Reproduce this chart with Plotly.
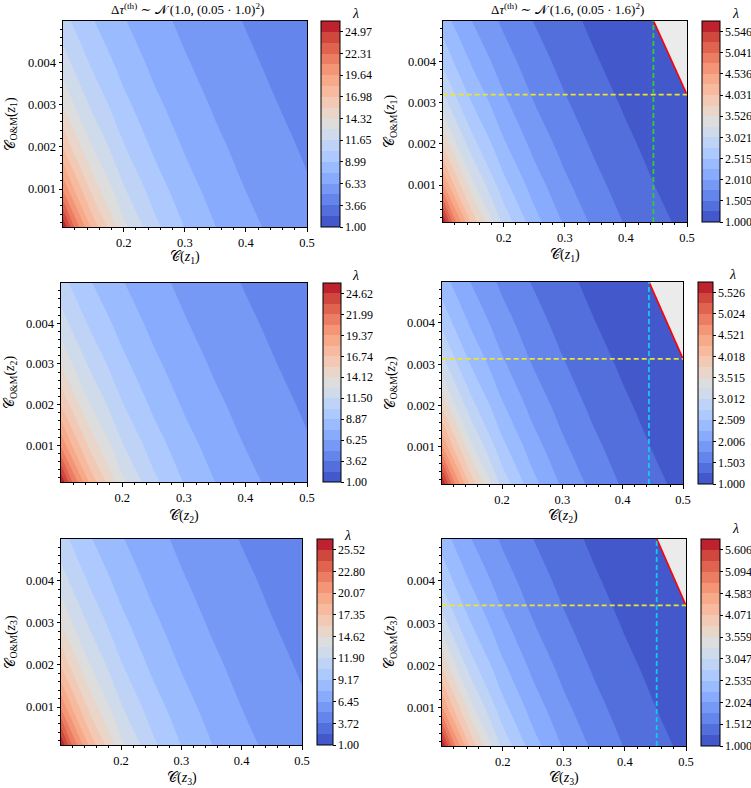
import plotly.graph_objects as go
from plotly.colors import sample_colorscale

c_z = [0.1, 0.12, 0.15, 0.2, 0.25, 0.3, 0.35, 0.4, 0.45, 0.5]
c_om = [0.0001, 0.001, 0.002, 0.003, 0.004, 0.005]

# left column: threshold mean 1.0
lam_z1_10 = [
    [26.30, 22.02, 17.71, 13.34, 10.71, 8.94, 7.67, 6.72, 5.98, 5.39],
    [20.84, 18.06, 15.05, 11.78, 9.67, 8.21, 7.13, 6.30, 5.64, 5.11],
    [16.93, 15.05, 12.90, 10.42, 8.74, 7.53, 6.61, 5.89, 5.31, 4.84],
    [14.26, 12.90, 11.29, 9.34, 7.97, 6.95, 6.16, 5.53, 5.02, 4.59],
    [12.31, 11.29, 10.03, 8.47, 7.32, 6.45, 5.77, 5.21, 4.75, 4.37],
    [10.84, 10.03, 9.03, 7.74, 6.77, 6.02, 5.42, 4.93, 4.52, 4.17],
]
lam_z2_10 = [
    [25.93, 21.72, 17.46, 13.16, 10.56, 8.81, 7.57, 6.63, 5.90, 5.31],
    [20.55, 17.81, 14.84, 11.61, 9.54, 8.09, 7.03, 6.21, 5.56, 5.04],
    [16.69, 14.84, 12.72, 10.27, 8.62, 7.42, 6.51, 5.81, 5.24, 4.77],
    [14.06, 12.72, 11.13, 9.21, 7.86, 6.85, 6.07, 5.45, 4.95, 4.53],
    [12.14, 11.13, 9.89, 8.35, 7.22, 6.36, 5.68, 5.14, 4.69, 4.31],
    [10.68, 9.89, 8.90, 7.63, 6.68, 5.94, 5.34, 4.86, 4.45, 4.11],
]
lam_z3_10 = [
    [26.88, 22.51, 18.10, 13.64, 10.95, 9.14, 7.84, 6.87, 6.11, 5.50],
    [21.30, 18.46, 15.38, 12.04, 9.89, 8.39, 7.29, 6.44, 5.77, 5.23],
    [17.31, 15.38, 13.19, 10.65, 8.93, 7.69, 6.75, 6.02, 5.43, 4.95],
    [14.57, 13.19, 11.54, 9.55, 8.14, 7.10, 6.29, 5.65, 5.13, 4.69],
    [12.59, 11.54, 10.26, 8.65, 7.49, 6.59, 5.89, 5.33, 4.86, 4.47],
    [11.08, 10.26, 9.23, 7.91, 6.92, 6.15, 5.54, 5.03, 4.62, 4.26],
]

# right column: threshold mean 1.6 (None = blank grey corner, lambda < 1)
lam_z1_16 = [
    [5.799, 4.856, 3.904, 2.942, 2.361, 1.971, 1.692, 1.482, 1.319, 1.187],
    [4.594, 3.982, 3.319, 2.597, 2.133, 1.810, 1.572, 1.389, 1.244, 1.127],
    [3.733, 3.319, 2.844, 2.297, 1.927, 1.659, 1.457, 1.299, 1.171, 1.067],
    [3.144, 2.844, 2.489, 2.060, 1.757, 1.532, 1.358, 1.219, 1.106, 1.012],
    [2.715, 2.489, 2.212, 1.867, 1.615, 1.422, 1.271, 1.149, 1.048, None],
    [2.389, 2.212, 1.991, 1.707, 1.493, 1.327, 1.195, 1.086, None, None],
]
lam_z2_16 = [
    [5.778, 4.838, 3.890, 2.931, 2.352, 1.964, 1.686, 1.476, 1.314, 1.183],
    [4.578, 3.967, 3.306, 2.587, 2.125, 1.803, 1.566, 1.384, 1.240, 1.123],
    [3.719, 3.306, 2.834, 2.289, 1.920, 1.653, 1.451, 1.294, 1.167, 1.063],
    [3.132, 2.834, 2.480, 2.052, 1.750, 1.526, 1.353, 1.215, 1.102, 1.009],
    [2.705, 2.480, 2.204, 1.860, 1.609, 1.417, 1.266, 1.144, 1.044, None],
    [2.380, 2.204, 1.984, 1.700, 1.488, 1.322, 1.190, 1.082, None, None],
]
lam_z3_16 = [
    [5.862, 4.909, 3.946, 2.974, 2.387, 1.993, 1.711, 1.498, 1.333, 1.200],
    [4.644, 4.026, 3.355, 2.625, 2.156, 1.830, 1.589, 1.404, 1.258, 1.139],
    [3.774, 3.355, 2.875, 2.322, 1.948, 1.677, 1.473, 1.313, 1.184, 1.078],
    [3.178, 2.875, 2.516, 2.082, 1.776, 1.548, 1.372, 1.232, 1.118, 1.023],
    [2.744, 2.516, 2.236, 1.887, 1.632, 1.438, 1.285, 1.161, 1.059, None],
    [2.415, 2.236, 2.013, 1.725, 1.510, 1.342, 1.208, 1.098, 1.007, None],
]
lam_max = [26.30, 5.799, 25.93, 5.778, 26.88, 5.862]

# colorbar tick labels
cb_z1_10 = ["1.00", "3.66", "6.33", "8.99", "11.65", "14.32", "16.98", "19.64", "22.31", "24.97"]
cb_z2_10 = ["1.00", "3.62", "6.25", "8.87", "11.50", "14.12", "16.74", "19.37", "21.99", "24.62"]
cb_z3_10 = ["1.00", "3.72", "6.45", "9.17", "11.90", "14.62", "17.35", "20.07", "22.80", "25.52"]
cb_z1_16 = ["1.000", "1.505", "2.010", "2.515", "3.021", "3.526", "4.031", "4.536", "5.041", "5.546"]
cb_z2_16 = ["1.000", "1.503", "2.006", "2.509", "3.012", "3.515", "4.018", "4.521", "5.024", "5.526"]
cb_z3_16 = ["1.000", "1.512", "2.024", "2.535", "3.047", "3.559", "4.071", "4.583", "5.094", "5.606"]

# where lambda drops to 1 (right column only)
crit_x = [0.445, 0.4435, 0.452]
crit_y = [0.0032, 0.00313, 0.00342]

# matplotlib coolwarm
coolwarm = [
    (59, 76, 192), (68, 90, 204), (77, 104, 215), (87, 117, 225), (98, 130, 234),
    (108, 142, 241), (119, 154, 247), (130, 165, 251), (141, 176, 254), (152, 185, 255),
    (163, 194, 255), (174, 201, 253), (184, 208, 249), (194, 213, 244), (204, 217, 238),
    (213, 219, 230), (221, 221, 221), (229, 216, 209), (236, 211, 197), (241, 204, 184),
    (245, 196, 172), (247, 187, 159), (247, 177, 146), (247, 167, 134), (244, 154, 123),
    (241, 141, 111), (236, 127, 99), (229, 112, 88), (222, 96, 77), (213, 80, 66),
    (203, 62, 56), (192, 40, 47), (180, 4, 38),
]
n_lev = 20
cw_scale = [[i / (len(coolwarm) - 1), "rgb(%d,%d,%d)" % c] for i, c in enumerate(coolwarm)]

# contour fill: plotly samples band i at (i+1)/20, matplotlib at (i+0.5)/19
cscale = [[0, cw_scale[0][1]]]
for fm, col in cw_scale:
    cscale.append([((n_lev - 1) * fm + 0.5) / n_lev, col])
cscale.append([1, cw_scale[-1][1]])

# stepped scale for the colorbars (19 bands between 20 levels)
band_cols = sample_colorscale(cw_scale, [(i + 0.5) / (n_lev - 1) for i in range(n_lev - 1)])
cb_scale = []
for i, col in enumerate(band_cols):
    cb_scale.append([i / (n_lev - 1), col])
    cb_scale.append([(i + 1) / (n_lev - 1), col])

SERIF = "Liberation Serif, DejaVu Serif, serif"
W, H = 751, 788

panels = [
    # z, ticks, sub, plot box (x0, x1, y0, y1), colorbar (x0, x1), lambda pos, crit idx
    (lam_z1_10, cb_z1_10, "1", (63, 307, 21, 227), (321, 340), (355, 14), None),
    (lam_z1_16, cb_z1_16, "1", (443, 687, 21, 222), (702, 720), (735, 14), 0),
    (lam_z2_10, cb_z2_10, "2", (61, 307, 283, 482), (323, 341), (355, 275), None),
    (lam_z2_16, cb_z2_16, "2", (442, 683, 282, 484), (698, 713), (732, 274), 1),
    (lam_z3_10, cb_z3_10, "3", (61, 302, 539, 745), (317, 333), (347, 535), None),
    (lam_z3_16, cb_z3_16, "3", (442, 686, 539, 746), (701, 720), (735, 528), 2),
]
crit_colors = ["rgb(50,205,50)", "rgb(20,200,235)", "rgb(20,200,235)"]
xtitle_y = [258, 256, 516, 516, 778, 778]
ytitle_x = [10.5, 390.5]

fig = go.Figure()
annotations = []

for k, (z, ticks, sub, box, cb, lam_pos, ci) in enumerate(panels):
    x0, x1, y0, y1 = box
    xa = "x" if k == 0 else "x%d" % (k + 1)
    ya = "y" if k == 0 else "y%d" % (k + 1)
    lname = "axis" if k == 0 else "axis%d" % (k + 1)
    zmax = lam_max[k]
    step = (zmax - 1.0) / (n_lev - 1)

    fig.add_trace(go.Contour(
        x=c_z, y=c_om, z=z, xaxis=xa, yaxis=ya, connectgaps=True,
        colorscale=cscale, showscale=False,
        contours=dict(start=1.0, end=zmax, size=step, coloring="fill", showlines=False),
        line=dict(width=0),
        hoverinfo="skip",
    ))

    # colorbar carrier spanning exactly [1, max]
    fig.add_trace(go.Scatter(
        x=[None, None], y=[None, None], xaxis=xa, yaxis=ya, mode="markers",
        marker=dict(
            color=[1.0, zmax], cmin=1.0, cmax=zmax, colorscale=cb_scale, showscale=True,
            colorbar=dict(
                x=cb[0] / W, xanchor="left", xpad=0, ypad=0,
                thickness=cb[1] - cb[0], thicknessmode="pixels",
                len=(y1 - y0) / H, lenmode="fraction",
                y=1 - (y0 + y1) / 2 / H, yanchor="middle",
                outlinewidth=1, outlinecolor="black",
                ticks="outside", ticklen=2.5, tickwidth=0.8, tickcolor="black",
                tickvals=[float(t) for t in ticks], ticktext=ticks,
                tickfont=dict(family=SERIF, size=12, color="black"),
            ),
        ),
        showlegend=False, hoverinfo="skip",
    ))

    fig.update_layout(**{
        "x" + lname: dict(
            domain=[x0 / W, x1 / W], anchor=ya, range=[0.1005, 0.5],
            tickvals=[0.2, 0.3, 0.4, 0.5], ticktext=["0.2", "0.3", "0.4", "0.5"],
            ticks="outside", ticklen=3.5, tickwidth=0.8, tickcolor="black",
            minor=dict(tick0=0, dtick=0.02, ticks="outside", ticklen=2, tickwidth=0.6, tickcolor="black"),
            showline=True, linecolor="black", linewidth=1, mirror=True,
            showgrid=False, zeroline=False,
            tickfont=dict(family=SERIF, size=12.5, color="black"),
        ),
        "y" + lname: dict(
            domain=[1 - y1 / H, 1 - y0 / H], anchor=xa, range=[0.0001, 0.00499],
            tickvals=[0.001, 0.002, 0.003, 0.004], ticktext=["0.001", "0.002", "0.003", "0.004"],
            ticks="outside", ticklen=3.5, tickwidth=0.8, tickcolor="black",
            minor=dict(tick0=0, dtick=0.0002, ticks="outside", ticklen=2, tickwidth=0.6, tickcolor="black"),
            showline=True, linecolor="black", linewidth=1, mirror=True,
            showgrid=False, zeroline=False,
            tickfont=dict(family=SERIF, size=12.5, color="black"),
        ),
    })

    if ci is not None:
        cx, cy = crit_x[ci], crit_y[ci]
        # infeasible corner (lambda < 1)
        fig.add_trace(go.Scatter(
            x=[cx, 0.5, 0.5, cx], y=[0.005, 0.005, cy, 0.005], xaxis=xa, yaxis=ya,
            mode="lines", fill="toself", fillcolor="#ebebeb", line=dict(width=0),
            showlegend=False, hoverinfo="skip",
        ))
        fig.add_trace(go.Scatter(
            x=[cx, 0.5], y=[0.005, cy], xaxis=xa, yaxis=ya, mode="lines",
            line=dict(color="red", width=1.6), showlegend=False, hoverinfo="skip",
        ))
        fig.add_trace(go.Scatter(
            x=[0.1, 0.5], y=[cy, cy], xaxis=xa, yaxis=ya, mode="lines",
            line=dict(color="rgb(238,228,40)", width=1.8, dash="5px,3px"),
            showlegend=False, hoverinfo="skip",
        ))
        fig.add_trace(go.Scatter(
            x=[cx, cx], y=[0.0001, 0.005], xaxis=xa, yaxis=ya, mode="lines",
            line=dict(color=crit_colors[ci], width=1.8, dash="5px,3px"),
            showlegend=False, hoverinfo="skip",
        ))

    # axis titles
    annotations.append(dict(
        x=(x0 + x1) / 2 / W, y=1 - xtitle_y[k] / H, xref="paper", yref="paper",
        text="𝒞(<i>z</i><sub>%s</sub>)" % sub, showarrow=False,
        font=dict(family=SERIF, size=14, color="black"), xanchor="center", yanchor="middle",
    ))
    annotations.append(dict(
        x=ytitle_x[k % 2] / W, y=1 - (y0 + y1) / 2 / H, xref="paper", yref="paper",
        text="𝒞<sub>O&M</sub>(<i>z</i><sub>%s</sub>)" % sub, showarrow=False, textangle=-90,
        font=dict(family=SERIF, size=14, color="black"), xanchor="center", yanchor="middle",
    ))
    annotations.append(dict(
        x=lam_pos[0] / W, y=1 - lam_pos[1] / H, xref="paper", yref="paper",
        text="<i>λ</i>", showarrow=False,
        font=dict(family=SERIF, size=14, color="black"), xanchor="center", yanchor="middle",
    ))

# column titles
for cx, mu in [(187, "1.0"), (567, "1.6")]:
    annotations.append(dict(
        x=cx / W, y=1 - 9 / H, xref="paper", yref="paper",
        text="Δ<i>τ</i><sup>(th)</sup> ∼ 𝒩 (%s, (0.05 · %s)<sup>2</sup>)" % (mu, mu),
        showarrow=False, font=dict(family=SERIF, size=13, color="black"),
        xanchor="center", yanchor="middle",
    ))

fig.update_layout(
    width=W, height=H,
    margin=dict(l=0, r=0, t=0, b=0, autoexpand=False),
    paper_bgcolor="white", plot_bgcolor="white",
    showlegend=False,
    annotations=annotations,
)

# page has a default 8px body margin; drop it so the figure sits at (0, 0)
fig.write_html("out.html", config={"displayModeBar": False},
               post_script="document.body.style.margin='0';")
